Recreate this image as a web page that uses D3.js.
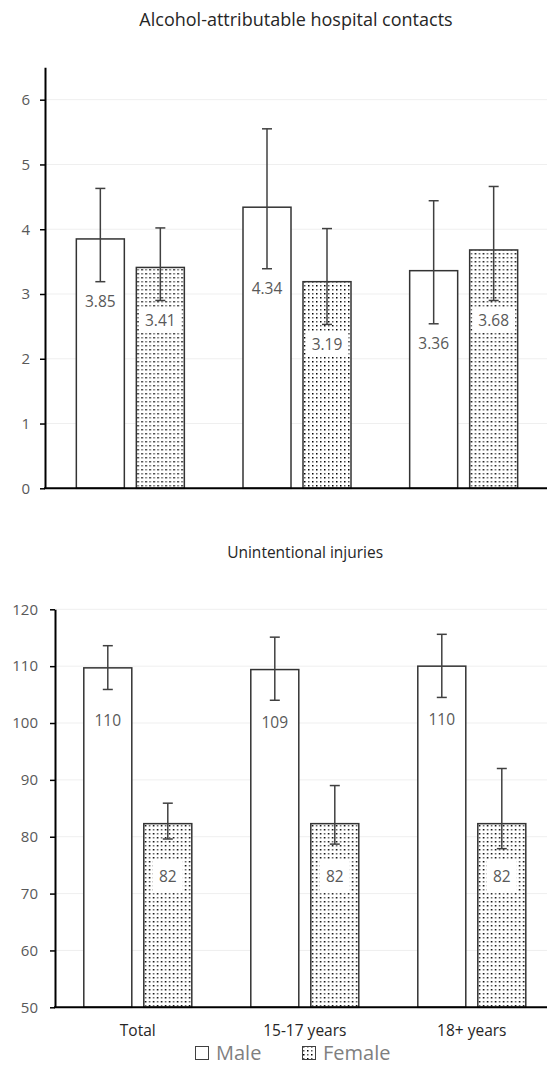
<!DOCTYPE html>
<html>
<head>
<meta charset="utf-8">
<script src="https://cdn.jsdelivr.net/npm/d3@7"></script>
<style>
  body { margin: 0; background: #fff; overflow: hidden; }
  svg { display: block; font-family: "Open Sans", sans-serif; }
</style>
</head>
<body>
<div id="chart"></div>
<script>
// categories and series
var categories = ["Total", "15-17 years", "18+ years"];
var series = ["Male", "Female"];

// Alcohol-attributable hospital contacts
var alcMale = [3.85, 4.34, 3.36];
var alcMaleLo = [3.19, 3.39, 2.54];
var alcMaleHi = [4.63, 5.55, 4.44];
var alcFemale = [3.41, 3.19, 3.68];
var alcFemaleLo = [2.90, 2.53, 2.90];
var alcFemaleHi = [4.02, 4.01, 4.66];
var alcTicks = [0, 1, 2, 3, 4, 5, 6];

// Unintentional injuries
var injMale = [109.7, 109.4, 110.0];
var injMaleLo = [105.9, 104.0, 104.5];
var injMaleHi = [113.6, 115.1, 115.6];
var injFemale = [82.3, 82.3, 82.3];
var injFemaleLo = [79.6, 78.7, 77.9];
var injFemaleHi = [85.9, 89.0, 92.0];
var injTicks = [50, 60, 70, 80, 90, 100, 110, 120];

var W = 547, H = 1068;

var svg = d3.select("#chart").append("svg")
    .attr("width", W)
    .attr("height", H);

// dotted fill used for the female bars
var pat = svg.append("defs").append("pattern")
    .attr("id", "dots")
    .attr("patternUnits", "userSpaceOnUse")
    .attr("width", 8)
    .attr("height", 8);
pat.append("rect").attr("width", 8).attr("height", 8).attr("fill", "#fff");
[[1, 1, "#000"], [5, 5, "#000"], [5, 1, "#555"], [1, 5, "#555"]].forEach(function (d) {
    pat.append("rect")
        .attr("x", d[0]).attr("y", d[1])
        .attr("width", 1.5).attr("height", 1.5)
        .attr("fill", d[2]);
});

function rows(m, mLo, mHi, f, fLo, fHi) {
    var out = [];
    categories.forEach(function (c, i) {
        out.push({cat: c, s: "Male", v: m[i], lo: mLo[i], hi: mHi[i]});
        out.push({cat: c, s: "Female", v: f[i], lo: fLo[i], hi: fHi[i]});
    });
    return out;
}

function panel(cfg) {
    var x = d3.scaleBand()
        .domain(categories)
        .range([cfg.x0, cfg.x1]);
    var xs = d3.scaleBand()
        .domain(series)
        .range([x.bandwidth() / 2 - 54, x.bandwidth() / 2 + 54])
        .paddingInner(0.2);
    var y = d3.scaleLinear()
        .domain(cfg.domain)
        .range([cfg.bottom, cfg.top]);

    var g = svg.append("g");

    // title
    g.append("text")
        .attr("x", (cfg.axisX + cfg.x1) / 2)
        .attr("y", cfg.titleY)
        .attr("text-anchor", "middle")
        .attr("font-size", cfg.titleSize)
        .attr("fill", "#262626")
        .text(cfg.title);

    // gridlines
    g.selectAll("line.grid")
        .data(cfg.ticks.slice(1))
        .enter()
        .append("line")
        .attr("x1", cfg.axisX).attr("x2", W)
        .attr("y1", function (d) { return y(d); })
        .attr("y2", function (d) { return y(d); })
        .attr("stroke", "#efefef");

    // y axis
    var yAxis = g.append("g")
        .attr("transform", "translate(" + cfg.axisX + ",0)")
        .call(d3.axisLeft(y).tickValues(cfg.ticks).tickFormat(d3.format("d"))
            .tickSizeInner(5).tickSizeOuter(0).tickPadding(cfg.pad));
    yAxis.select(".domain").attr("stroke", "#000").attr("stroke-width", 2);
    yAxis.selectAll(".tick line").attr("stroke", "#000").attr("stroke-width", 1.5);
    yAxis.selectAll(".tick text")
        .attr("font-size", 15)
        .attr("font-family", "Open Sans, sans-serif")
        .attr("fill", "#595959");

    var data = rows.apply(null, cfg.data);

    var bar = g.selectAll("g.bar")
        .data(data)
        .enter()
        .append("g")
        .attr("class", "bar")
        .attr("transform", function (d) {
            return "translate(" + (x(d.cat) + xs(d.s)) + ",0)";
        });

    bar.append("rect")
        .attr("y", function (d) { return y(d.v); })
        .attr("width", xs.bandwidth())
        .attr("height", function (d) { return y(cfg.domain[0]) - y(d.v); })
        .attr("fill", function (d) { return d.s === "Male" ? "#fff" : "url(#dots)"; })
        .attr("stroke", "#333")
        .attr("stroke-width", 1.5);

    // value labels with white backing
    var lab = bar.append("g")
        .attr("transform", function (d) {
            return "translate(" + xs.bandwidth() / 2 + "," + cfg.labelY(d, y) + ")";
        });
    var txt = lab.append("text")
        .attr("text-anchor", "middle")
        .attr("dy", "0.35em")
        .attr("font-size", 15.5)
        .attr("fill", "#595959")
        .text(function (d) { return d3.format(cfg.fmt)(d.v); });
    txt.each(function (d) {
        var b = this.getBBox();
        d3.select(this.parentNode).insert("rect", "text")
            .attr("x", b.x - cfg.boxPadX)
            .attr("y", b.y - cfg.boxPadY)
            .attr("width", b.width + cfg.boxPadX * 2)
            .attr("height", b.height + cfg.boxPadY * 2)
            .attr("fill", "#fff");
    });

    // error bars
    var cx = xs.bandwidth() / 2;
    bar.append("line")
        .attr("x1", cx).attr("x2", cx)
        .attr("y1", function (d) { return y(d.lo); })
        .attr("y2", function (d) { return y(d.hi); })
        .attr("stroke", "#404040").attr("stroke-width", 1.5);
    ["lo", "hi"].forEach(function (k) {
        bar.append("line")
            .attr("x1", cx - 5).attr("x2", cx + 5)
            .attr("y1", function (d) { return y(d[k]); })
            .attr("y2", function (d) { return y(d[k]); })
            .attr("stroke", "#404040").attr("stroke-width", 1.5);
    });

    // x axis line
    g.append("line")
        .attr("x1", cfg.axisX - 1).attr("x2", W)
        .attr("y1", y(cfg.domain[0])).attr("y2", y(cfg.domain[0]))
        .attr("stroke", "#000").attr("stroke-width", 2);

    if (cfg.showCats) {
        g.selectAll("text.cat")
            .data(categories)
            .enter()
            .append("text")
            .attr("class", "cat")
            .attr("x", function (d) { return x(d) + x.bandwidth() / 2; })
            .attr("y", cfg.bottom + 23)
            .attr("dy", "0.35em")
            .attr("text-anchor", "middle")
            .attr("font-size", 15.5)
            .attr("fill", "#262626")
            .text(function (d) { return d; });
    }
}

panel({
    title: "Alcohol-attributable hospital contacts",
    titleY: 26,
    titleSize: 18,
    data: [alcMale, alcMaleLo, alcMaleHi, alcFemale, alcFemaleLo, alcFemaleHi],
    domain: [0, 6.5],
    ticks: alcTicks,
    top: 67.3, bottom: 488.3,
    axisX: 45, x0: 47, x1: 547,
    pad: 10,
    fmt: ".2f",
    labelY: function (d, y) { return y(d.lo) + 20; },
    boxPadX: 6, boxPadY: 2,
    showCats: false
});

panel({
    title: "Unintentional injuries",
    titleY: 558,
    titleSize: 15.5,
    data: [injMale, injMaleLo, injMaleHi, injFemale, injFemaleLo, injFemaleHi],
    domain: [50, 120],
    ticks: injTicks,
    top: 609.3, bottom: 1007.3,
    axisX: 55, x0: 54.3, x1: 555.3,
    pad: 12,
    fmt: ".0f",
    labelY: function (d, y) { return y(d.v) + 53; },
    boxPadX: 6, boxPadY: 6,
    showCats: true
});

// legend
var legend = svg.append("g")
    .attr("transform", "translate(195,1053)");
var item = legend.selectAll("g")
    .data(series)
    .enter()
    .append("g")
    .attr("transform", function (d, i) { return "translate(" + (i * 107) + ",0)"; });
item.append("rect")
    .attr("x", 0.5).attr("y", -6.5)
    .attr("width", 13).attr("height", 13)
    .attr("fill", function (d) { return d === "Male" ? "#fff" : "url(#dots)"; })
    .attr("stroke", "#404040");
item.append("text")
    .attr("x", 21)
    .attr("dy", "0.35em")
    .attr("font-size", 20)
    .attr("fill", "#7f7f7f")
    .text(function (d) { return d; });
</script>
</body>
</html>
